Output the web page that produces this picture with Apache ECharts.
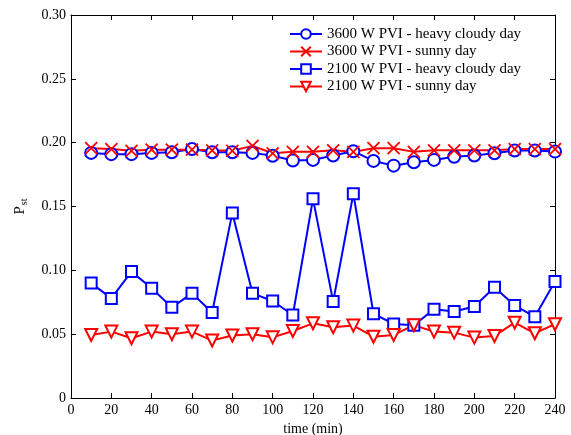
<!DOCTYPE html>
<html>
<head>
<meta charset="utf-8">
<script src="https://cdn.jsdelivr.net/npm/echarts@6/dist/echarts.min.js"></script>
<style>
  html, body { margin: 0; padding: 0; background: #fff; }
  #chart { width: 571px; height: 435px; }
</style>
</head>
<body>
<div id="chart"></div>
<script>
// Flicker severity (Pst) measured every 10 minutes
const times = [10, 20, 30, 40, 50, 60, 70, 80, 90, 100, 110, 120,
               130, 140, 150, 160, 170, 180, 190, 200, 210, 220, 230, 240];

const pvi3600Cloudy = [0.192, 0.191, 0.191, 0.192, 0.1925, 0.195, 0.1925, 0.1925, 0.192, 0.1897, 0.186, 0.1865,
                       0.190, 0.1933, 0.1857, 0.182, 0.1847, 0.1865, 0.189, 0.190, 0.1917, 0.1938, 0.1938, 0.193];
const pvi3600Sunny  = [0.1957, 0.195, 0.1936, 0.1945, 0.1945, 0.1945, 0.194, 0.1936, 0.1975, 0.1917, 0.1928, 0.1928,
                       0.194, 0.1928, 0.1957, 0.1957, 0.1928, 0.194, 0.194, 0.194, 0.194, 0.195, 0.195, 0.195];
const pvi2100Cloudy = [0.090, 0.078, 0.099, 0.086, 0.071, 0.082, 0.067, 0.145, 0.082, 0.076, 0.065, 0.156,
                       0.0755, 0.160, 0.066, 0.058, 0.057, 0.0695, 0.0677, 0.0716, 0.0867, 0.0724, 0.0637, 0.0912];
const pvi2100Sunny  = [0.0494, 0.052, 0.0468, 0.052, 0.050, 0.052, 0.045, 0.049, 0.050, 0.0475, 0.0525, 0.0585,
                       0.0554, 0.0567, 0.048, 0.0494, 0.057, 0.052, 0.0512, 0.0473, 0.0486, 0.059, 0.0507, 0.0578];

const seriesNames = ['3600 W PVI - heavy cloudy day', '3600 W PVI - sunny day',
                     '2100 W PVI - heavy cloudy day', '2100 W PVI - sunny day'];

const xTicks = { min: 0, max: 240, step: 20 };
const yTicks = { min: 0, max: 0.30, step: 0.05 };

const BLUE = '#0000ff';
const RED = '#ff0000';
const FONT = 'Liberation Serif';

const pairs = vals => times.map((t, i) => [t, vals[i]]);

function makeSeries(name, vals, color, symbol, size, rotate) {
  return {
    name: name,
    type: 'line',
    data: pairs(vals),
    symbol: symbol,
    symbolSize: size,
    symbolRotate: rotate || 0,
    showAllSymbol: true,
    lineStyle: { color: color, width: 2 },
    itemStyle: { color: color, borderColor: color, borderWidth: 1.8 },
    emphasis: { disabled: true },
    z: 2
  };
}

const chart = echarts.init(document.getElementById('chart'));

const baseAxisLine = { show: true, onZero: false, lineStyle: { color: '#000', width: 1 } };
const tickIn = { show: true, inside: true, length: 5, lineStyle: { color: '#000', width: 1 } };

chart.setOption({
  animation: false,
  backgroundColor: '#fff',
  grid: { left: 71, right: 16, top: 15, bottom: 37, containLabel: false, outerBoundsMode: 'none' },
  legend: {
    orient: 'vertical',
    left: 289,
    top: 26.5,
    padding: 0,
    itemWidth: 32,
    itemHeight: 12,
    itemGap: 2.5,
    data: seriesNames,
    textStyle: { fontFamily: FONT, fontSize: 15, color: '#000' }
  },
  xAxis: [{
    type: 'value',
    min: xTicks.min, max: xTicks.max, interval: xTicks.step,
    name: 'time (min)',
    nameLocation: 'middle',
    nameGap: 17.5,
    nameTextStyle: { fontFamily: FONT, fontSize: 14, color: '#000' },
    axisLine: baseAxisLine,
    axisTick: tickIn,
    axisLabel: { fontFamily: FONT, fontSize: 14, color: '#000', margin: 5 },
    splitLine: { show: false }
  }, {
    type: 'value', position: 'top',
    min: xTicks.min, max: xTicks.max, interval: xTicks.step,
    axisLine: baseAxisLine, axisTick: tickIn,
    axisLabel: { show: false }, splitLine: { show: false }
  }],
  yAxis: [{
    type: 'value',
    min: yTicks.min, max: yTicks.max, interval: yTicks.step,
    name: '{p|P}{s|st}',
    nameLocation: 'middle',
    nameGap: 42,
    nameRotate: 90,
    nameTextStyle: {
      rich: {
        p: { fontFamily: FONT, fontSize: 15, color: '#000' },
        s: { fontFamily: FONT, fontSize: 10, color: '#000', verticalAlign: 'bottom', padding: [8, 0, 0, 1] }
      }
    },
    axisLine: baseAxisLine,
    axisTick: tickIn,
    axisLabel: {
      fontFamily: FONT, fontSize: 14, color: '#000', margin: 5,
      formatter: v => (v === 0 ? '0' : v.toFixed(2))
    },
    splitLine: { show: false }
  }, {
    type: 'value', position: 'right',
    min: yTicks.min, max: yTicks.max, interval: yTicks.step,
    axisLine: baseAxisLine, axisTick: tickIn,
    axisLabel: { show: false }, splitLine: { show: false }
  }],
  series: [
    makeSeries(seriesNames[0], pvi3600Cloudy, BLUE, 'emptyCircle', 12),
    makeSeries(seriesNames[1], pvi3600Sunny, RED, 'path://M0,0L10,10M10,0L0,10', 12),
    makeSeries(seriesNames[2], pvi2100Cloudy, BLUE, 'emptyRect', 11),
    makeSeries(seriesNames[3], pvi2100Sunny, RED, 'emptyTriangle', 12, 180)
  ]
});
</script>
</body>
</html>
